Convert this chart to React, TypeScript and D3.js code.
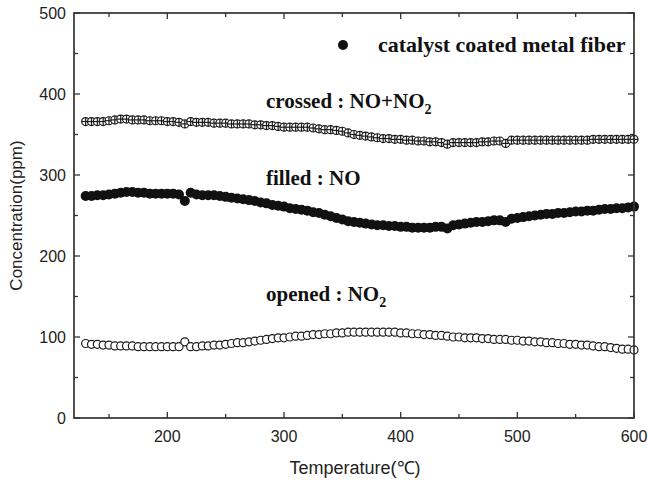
import React from 'react';
import * as d3 from 'd3';

// temperatures (°C) for each sample
const temps = [
  130, 135, 140, 145, 150, 155, 160, 165, 170, 175,
  180, 185, 190, 195, 200, 205, 210, 215, 220, 225,
  230, 235, 240, 245, 250, 255, 260, 265, 270, 275,
  280, 285, 290, 295, 300, 305, 310, 315, 320, 325,
  330, 335, 340, 345, 350, 355, 360, 365, 370, 375,
  380, 385, 390, 395, 400, 405, 410, 415, 420, 425,
  430, 435, 440, 445, 450, 455, 460, 465, 470, 475,
  480, 485, 490, 495, 500, 505, 510, 515, 520, 525,
  530, 535, 540, 545, 550, 555, 560, 565, 570, 575,
  580, 585, 590, 595, 600,
];

// crossed : NO+NO2
const noxValues = [
  366, 366, 366, 366, 367, 368, 369, 369, 368, 368,
  368, 367, 367, 367, 366, 366, 365, 363, 366, 365,
  365, 365, 364, 364, 364, 363, 363, 363, 363, 362,
  362, 361, 361, 360, 359, 359, 359, 359, 359, 358,
  357, 356, 356, 355, 354, 352, 350, 349, 348, 347,
  346, 345, 345, 344, 344, 343, 343, 342, 342, 341,
  341, 340, 338, 340, 340, 340, 340, 340, 341, 341,
  342, 342, 339, 343, 343, 343, 343, 343, 343, 343,
  343, 343, 343, 343, 343, 343, 343, 344, 344, 344,
  344, 344, 344, 344, 344,
];

// filled : NO
const noValues = [
  274, 274, 275, 275, 276, 277, 278, 279, 279, 278,
  278, 277, 277, 277, 277, 277, 276, 268, 278, 276,
  275, 275, 275, 274, 273, 272, 271, 270, 269, 268,
  266, 265, 263, 262, 261, 259, 258, 257, 256, 254,
  253, 251, 249, 247, 245, 243, 242, 241, 240, 239,
  238, 238, 237, 237, 236, 236, 235, 235, 235, 235,
  236, 236, 234, 238, 239, 240, 241, 242, 242, 243,
  244, 244, 242, 246, 247, 248, 249, 250, 251, 252,
  252, 253, 253, 254, 255, 255, 256, 256, 257, 258,
  258, 259, 259, 260, 261,
];

// opened : NO2
const no2Values = [
  92, 91, 91, 90, 90, 89, 89, 89, 89, 88,
  88, 88, 88, 88, 88, 88, 88, 94, 88, 88,
  89, 89, 90, 90, 91, 92, 93, 93, 94, 95,
  96, 97, 98, 99, 99, 100, 101, 101, 102, 103,
  103, 104, 104, 105, 105, 106, 106, 106, 106, 106,
  106, 106, 106, 106, 105, 105, 104, 104, 103, 103,
  102, 102, 101, 100, 100, 99, 99, 99, 98, 98,
  97, 97, 97, 96, 96, 95, 95, 94, 94, 93,
  93, 92, 92, 91, 91, 90, 90, 89, 88, 88,
  87, 86, 85, 85, 84,
];

const xMajor = [200, 300, 400, 500, 600];
const xMinor = [150, 250, 350, 450, 550];
const yMajor = [0, 100, 200, 300, 400, 500];
const yMinor = [50, 150, 250, 350, 450];

const W = 648;
const H = 483;
const axisColor = '#333';
const sans = '"Liberation Sans", Arial, sans-serif';
const serif = '"Liberation Serif", "Times New Roman", serif';

const App: React.FC = () => {
  const x = d3.scaleLinear().domain([120, 600]).range([74, 634]);
  const y = d3.scaleLinear().domain([0, 500]).range([418, 13]);
  const [x0, x1] = x.range();
  const [y0, y1] = y.range();

  const pts = (vals: number[]) => temps.map((t, i) => ({ t, v: vals[i] }));

  return (
    <svg width={W} height={H} style={{ position: 'absolute', left: 0, top: 0, background: '#fff' }}>
      <rect width={W} height={H} fill="#fff" />

      {/* series */}
      <g>
        {pts(noxValues).map((d, i) => {
          const cx = x(d.t), cy = y(d.v), r = 4;
          return (
            <g key={'x' + i} stroke="#1a1a1a" strokeWidth={1.2} fill="#fff">
              <circle cx={cx} cy={cy} r={r} />
              <line x1={cx - r} x2={cx + r} y1={cy} y2={cy} />
              <line x1={cx} x2={cx} y1={cy - r} y2={cy + r} />
            </g>
          );
        })}
        {pts(noValues).map((d, i) => (
          <circle key={'f' + i} cx={x(d.t)} cy={y(d.v)} r={5} fill="#111" />
        ))}
        {pts(no2Values).map((d, i) => (
          <circle key={'o' + i} cx={x(d.t)} cy={y(d.v)} r={4} fill="#fff" stroke="#1a1a1a" strokeWidth={1.2} />
        ))}
      </g>

      {/* frame */}
      <rect x={x0} y={y1} width={x1 - x0} height={y0 - y1} fill="none" stroke={axisColor} strokeWidth={1.7} />

      {/* ticks on all four sides, pointing inward */}
      {xMajor.map(t => (
        <g key={'xm' + t} stroke={axisColor} strokeWidth={1.3}>
          <line x1={x(t)} x2={x(t)} y1={y0} y2={y0 - 6} />
          <line x1={x(t)} x2={x(t)} y1={y1} y2={y1 + 6} />
        </g>
      ))}
      {xMinor.map(t => (
        <g key={'xn' + t} stroke={axisColor} strokeWidth={1.3}>
          <line x1={x(t)} x2={x(t)} y1={y0} y2={y0 - 4} />
          <line x1={x(t)} x2={x(t)} y1={y1} y2={y1 + 4} />
        </g>
      ))}
      {yMajor.map(t => (
        <g key={'ym' + t} stroke={axisColor} strokeWidth={1.3}>
          <line x1={x0} x2={x0 + 6} y1={y(t)} y2={y(t)} />
          <line x1={x1} x2={x1 - 6} y1={y(t)} y2={y(t)} />
        </g>
      ))}
      {yMinor.map(t => (
        <g key={'yn' + t} stroke={axisColor} strokeWidth={1.3}>
          <line x1={x0} x2={x0 + 4} y1={y(t)} y2={y(t)} />
          <line x1={x1} x2={x1 - 4} y1={y(t)} y2={y(t)} />
        </g>
      ))}

      {/* tick labels */}
      <g fontFamily={sans} fontSize={16} fill="#222">
        {xMajor.map(t => (
          <text key={'xl' + t} x={x(t)} y={y0 + 24} textAnchor="middle">{t}</text>
        ))}
        {yMajor.map(t => (
          <text key={'yl' + t} x={x0 - 8} y={y(t)} dy="0.35em" textAnchor="end">{t}</text>
        ))}
      </g>

      {/* axis titles */}
      <text x={355} y={474} textAnchor="middle" fontFamily={sans} fontSize={18} fill="#222">
        Temperature(℃)
      </text>
      <text
        transform={`translate(22,${(y0 + y1) / 2}) rotate(-90)`}
        textAnchor="middle"
        fontFamily={sans}
        fontSize={17}
        fill="#222"
      >
        Concentration(ppm)
      </text>

      {/* legend */}
      <circle cx={343} cy={45} r={5} fill="#111" />
      <text x={378} y={52} fontFamily={serif} fontWeight="bold" fontSize={22} fill="#111">
        catalyst coated metal fiber
      </text>

      {/* annotations */}
      <g fontFamily={serif} fontWeight="bold" fontSize={21} fill="#111">
        <text x={266} y={108}>
          crossed : NO+NO<tspan fontSize={14} dy={6}>2</tspan>
        </text>
        <text x={266} y={185}>filled : NO</text>
        <text x={266} y={301}>
          opened : NO<tspan fontSize={14} dy={6}>2</tspan>
        </text>
      </g>
    </svg>
  );
};

export default App;
